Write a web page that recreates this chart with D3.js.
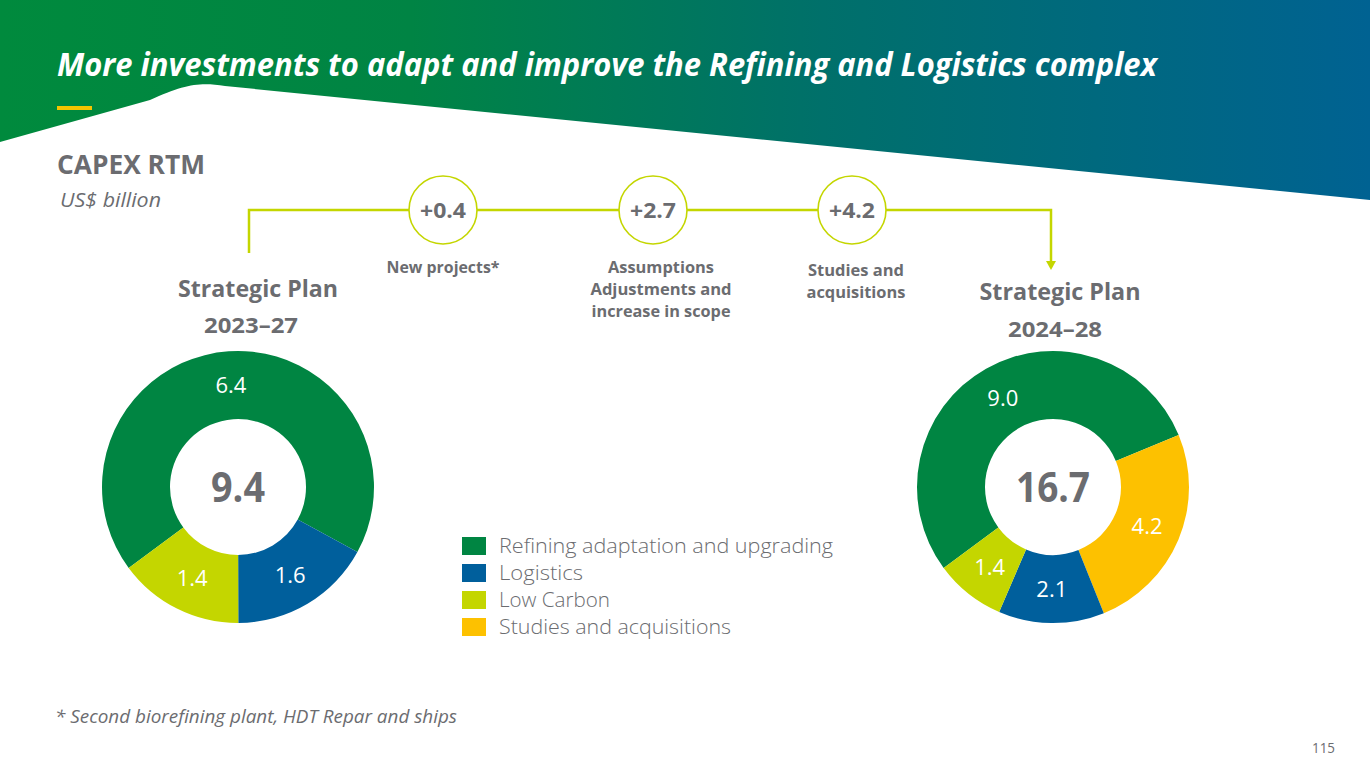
<!DOCTYPE html>
<html><head><meta charset="utf-8">
<script src="https://cdn.jsdelivr.net/npm/d3@7"></script>
<style>html,body{margin:0;padding:0;background:#fff;overflow:hidden}svg{display:block}</style>
</head><body>
<script>
// ---- data ----
const categories = ["Refining adaptation and upgrading", "Studies and acquisitions", "Logistics", "Low Carbon"];
const categoryColors = ["#008542", "#fdc100", "#005f9c", "#c4d600"];
const legendOrder = ["Refining adaptation and upgrading", "Logistics", "Low Carbon", "Studies and acquisitions"];
const plan2023Values = [6.4, 0, 1.6, 1.4];
const plan2024Values = [9.0, 4.2, 2.1, 1.4];
const plan2023Total = "9.4";
const plan2024Total = "16.7";
const bridgeValues = ["+0.4", "+2.7", "+4.2"];
const bridgeLabels = [["New projects*"], ["Assumptions", "Adjustments and", "increase in scope"], ["Studies and", "acquisitions"]];

const W = 1370, H = 771;
const gray = "#6b6c70";
const lime = "#c4d600";
const FONT = "'Open Sans', 'Noto Sans', sans-serif";

const svg = d3.select("body").append("svg").attr("width", W).attr("height", H);
const defs = svg.append("defs");
const grad = defs.append("linearGradient").attr("id", "hdr").attr("x1", 0).attr("x2", 1).attr("y1", 0).attr("y2", 0);
grad.append("stop").attr("offset", "0%").attr("stop-color", "#008a3d");
grad.append("stop").attr("offset", "30%").attr("stop-color", "#008444");
grad.append("stop").attr("offset", "60%").attr("stop-color", "#00706a");
grad.append("stop").attr("offset", "100%").attr("stop-color", "#006292");

// header band
svg.append("path")
  .attr("d", "M0,0 H1370 V200 L225,86 C200,82 185,84 150,100 L0,142 Z")
  .attr("fill", "url(#hdr)");

function txt(g, s, x, y, o) {
  const t = g.append("text").attr("x", x).attr("y", y).text(s)
    .attr("font-family", FONT).attr("font-size", o.size).attr("fill", o.fill || gray)
    .attr("font-weight", o.weight || 400).attr("text-anchor", o.anchor || "start");
  if (o.italic) t.attr("font-style", "italic");
  if (o.len) t.attr("textLength", o.len).attr("lengthAdjust", "spacingAndGlyphs");
  return t;
}

txt(svg, "More investments to adapt and improve the Refining and Logistics complex", 57, 76,
  {size: 32, weight: 700, italic: true, fill: "#fff", len: 1100});
svg.append("rect").attr("x", 57).attr("y", 106).attr("width", 35).attr("height", 4).attr("fill", "#f5c400");

txt(svg, "CAPEX RTM", 57, 174, {size: 26, weight: 700, len: 148});
txt(svg, "US$ billion", 60, 207, {size: 20, italic: true, len: 101});

// bridge line
const lineY = 210;
const xStart = 249, xEnd = 1051;
svg.append("path")
  .attr("d", `M${xStart},253 V${lineY} H${xEnd} V262`)
  .attr("fill", "none").attr("stroke", lime).attr("stroke-width", 2.5);
svg.append("path").attr("d", `M${xEnd-5},261 L${xEnd+5},261 L${xEnd},270 Z`).attr("fill", lime);

const bridgeCx = [443, 653, 852];
const bridgeTextX = [443, 661, 856];
const bridgeLens = [[113], [106, 141, 139], [96, 99]];
const bridgeY0 = [273, 273, 276];
bridgeValues.forEach((v, i) => {
  const g = svg.append("g");
  g.append("circle").attr("cx", bridgeCx[i]).attr("cy", lineY).attr("r", 34)
    .attr("fill", "#fff").attr("stroke", lime).attr("stroke-width", 1.6);
  txt(g, v, bridgeCx[i], lineY + 8, {size: 22, weight: 700, anchor: "middle", len: 46});
  bridgeLabels[i].forEach((l, j) => {
    txt(g, l, bridgeTextX[i], bridgeY0[i] + j * 22, {size: 16.5, weight: 700, anchor: "middle", len: bridgeLens[i][j]});
  });
});

txt(svg, "Strategic Plan", 258, 297, {size: 24, weight: 700, anchor: "middle", len: 160});
txt(svg, "2023–27", 251, 333, {size: 22, weight: 700, anchor: "middle", len: 94});
txt(svg, "Strategic Plan", 1060, 300, {size: 24, weight: 700, anchor: "middle", len: 161});
txt(svg, "2024–28", 1055, 337, {size: 22, weight: 700, anchor: "middle", len: 94});

// donuts
const color = d3.scaleOrdinal().domain(categories).range(categoryColors);
const start = -126.5 * Math.PI / 180;
const pie = d3.pie().sort(null).value(d => d.v).startAngle(start).endAngle(start + 2 * Math.PI);
const arc = d3.arc().innerRadius(68).outerRadius(136);
const labelArc = d3.arc().innerRadius(102).outerRadius(102);

function donut(cx, cy, values, total, totalLen) {
  const data = categories.map((c, i) => ({c, v: values[i]}));
  const g = svg.append("g").attr("transform", `translate(${cx},${cy})`);
  const arcs = pie(data).filter(d => d.data.v > 0);
  g.selectAll("path").data(arcs).join("path").attr("d", arc).attr("fill", d => color(d.data.c));
  arcs.forEach(d => {
    const [x, y] = labelArc.centroid(d);
    txt(g, d.data.v.toFixed(1), x, y + 8, {size: 22, fill: "#fff", anchor: "middle"});
  });
  txt(g, total, 0, 15, {size: 42, weight: 700, anchor: "middle", len: totalLen});
}
donut(238, 487, plan2023Values, plan2023Total, 54);
donut(1053, 487, plan2024Values, plan2024Total, 74);

// legend
const ly = d3.scalePoint().domain(legendOrder).range([546, 627]);
const legendLens = [334, 84, 111, 232];
legendOrder.forEach((c, i) => {
  svg.append("rect").attr("x", 462).attr("y", ly(c) - 9).attr("width", 24).attr("height", 18).attr("fill", color(c));
  txt(svg, c, 499, ly(c) + 7, {size: 19.5, weight: 300, len: legendLens[i]});
});

txt(svg, "* Second biorefining plant, HDT Repar and ships", 55, 723, {size: 18, italic: true, len: 402});
txt(svg, "115", 1335, 753, {size: 15, anchor: "end", len: 23});
</script>
</body></html>
